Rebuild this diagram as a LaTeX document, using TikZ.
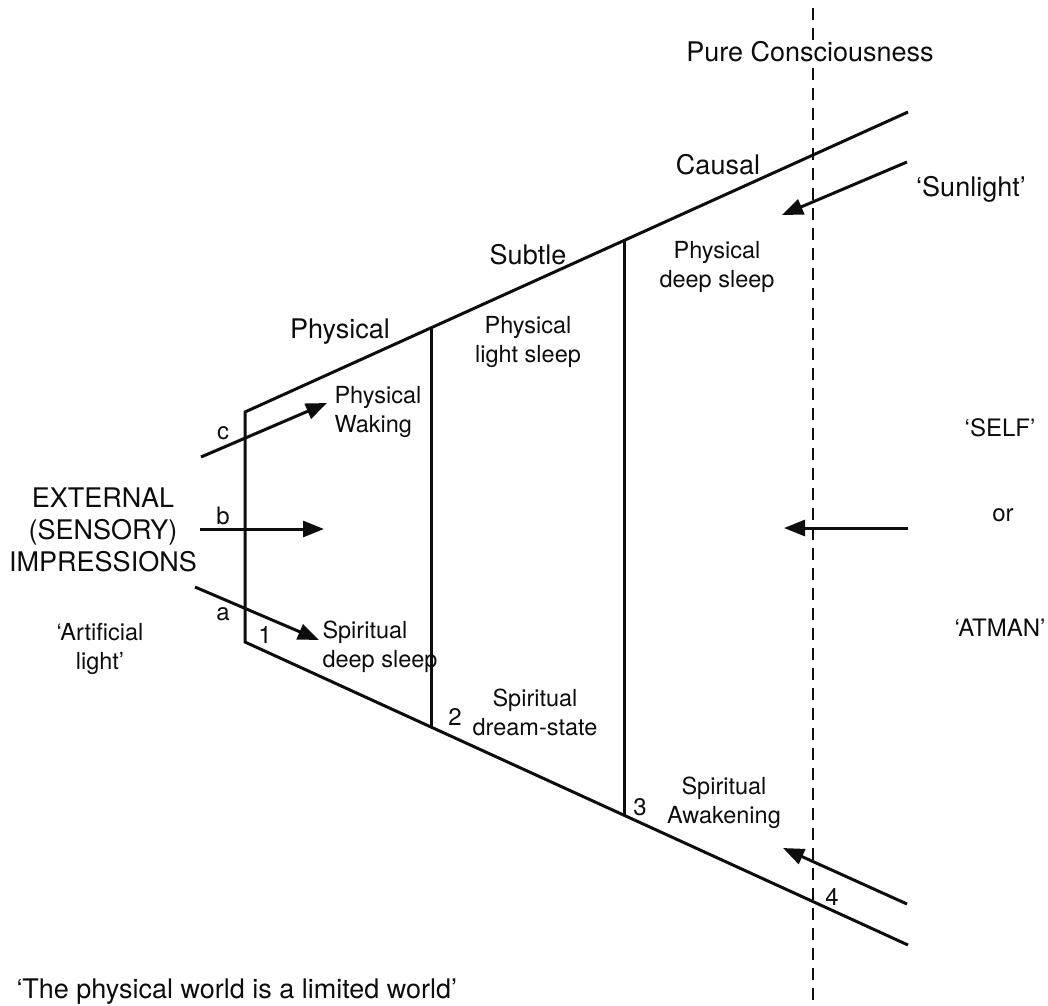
\documentclass[tikz,border=0pt]{standalone}
\usepackage{fontspec}
\setmainfont{TeX Gyre Heros}
\usetikzlibrary{arrows.meta,calc}

\tikzset{
  big/.style={font=\fontsize{27}{32}\selectfont, align=center, inner sep=1pt},
  small/.style={font=\fontsize{23.5}{29}\selectfont, align=center, inner sep=1pt},
  num/.style={font=\fontsize{24}{28}\selectfont, inner sep=1pt},
  ray/.style={-{Triangle[length=21pt,width=16pt]}},
}

\begin{document}
\begin{tikzpicture}[x=1pt, y=-1pt, line width=3pt, color=black!95]
        \useasboundingbox (0,0) rectangle (1048,1005);
        % planes
        \coordinate (tl) at (245,412);
        \coordinate (bl) at (245,642);
        \coordinate (tr) at (908,112);
        \coordinate (br) at (908,945);
        \draw (tr) -- (tl) -- (bl) -- (br);
        \draw ($(tl)!0.282!(tr)$) -- ($(bl)!0.282!(br)$);
        \draw ($(tl)!0.572!(tr)$) -- ($(bl)!0.572!(br)$);
        \draw[dash pattern=on 12pt off 8pt, line width=2.7pt] (813,8) -- (813,1005);
        % rays
        \coordinate (c0) at (201,457); \coordinate (c1) at (327,403);
        \coordinate (b0) at (200,529); \coordinate (b1) at (324,529);
        \coordinate (a0) at (195,587); \coordinate (a1) at (319,640);
        \coordinate (s0) at (907,162); \coordinate (s1) at (782,215);
        \coordinate (m0) at (908,528); \coordinate (m1) at (784,528);
        \coordinate (w0) at (907,904); \coordinate (w1) at (783,848);
        \draw[ray] (c0) -- (c1);
        \draw[ray] (b0) -- (b1);
        \draw[ray] (a0) -- (a1);
        \draw[ray] (s0) -- (s1);
        \draw[ray] (m0) -- (m1);
        \draw[ray] (w0) -- (w1);
        % labels
        \node[big, fill=white] (pure) at (810,52) {Pure Consciousness};
        \node[big] (causal) at (718,165) {Causal};
        \node[big] (subtle) at (528,255) {Subtle};
        \node[big] (phys) at (340,332) {Physical};
        \node[big] (sun) at (971,189) {‘Sunlight’};
        \node[big] (ext) at (103,530) {EXTERNAL\\(SENSORY)\\IMPRESSIONS};
        \node[small] (art) at (100,649) {‘Artificial\\light’};
        \node[num] (self) at (1000,428) {‘SELF’};
        \node[num] (or) at (1003,515) {or};
        \node[num] (atman) at (1000,628) {‘ATMAN’};
        \node[small, align=left, anchor=west] (waking) at (332,412) {Physical\\Waking};
        \node[small] (light) at (528,342) {Physical\\light sleep};
        \node[small] (deep) at (717,267) {Physical\\deep sleep};
        \node[small, align=left, anchor=west] (spdeep) at (320,647) {Spiritual\\deep sleep};
        \node[small] (dream) at (535,712) {Spiritual\\dream-state};
        \node[small] (awake) at (724,803) {Spiritual\\Awakening};
        \node[num] (lc) at (223,433) {c};
        \node[num] (lb) at (223,516) {b};
        \node[num] (la) at (223,614) {a};
        \node[num] (n1) at (265,635) {1};
        \node[num] (n2) at (455,717) {2};
        \node[num] (n3) at (640,807) {3};
        \node[num] (n4) at (832,897) {4};
        \node[big, anchor=base west, inner sep=0pt] (limited) at (15,998) {‘The physical world is a limited world’};
\end{tikzpicture}
\end{document}
